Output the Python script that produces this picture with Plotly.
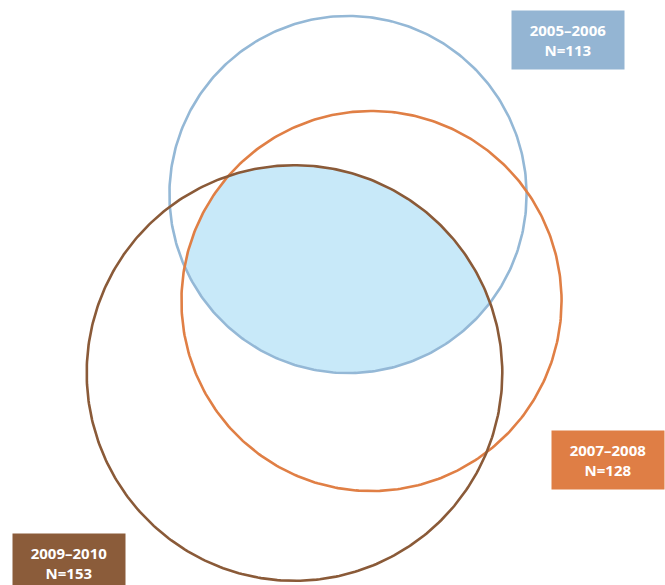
import numpy as np
import plotly.graph_objects as go

# Data
periods = ["2005–2006", "2007–2008", "2009–2010"]
counts = [113, 128, 153]

# Layout (pixel-space positions of circle centres and label boxes)
centers_x = [348, 371.5, 294.5]
centers_y = [194.5, 301, 373]
scale = 16.8  # radius = scale * sqrt(N)  -> area proportional to N
line_colors = ["#94b8d6", "#e07f45", "#8a5a38"]
box_colors = ["#94b5d3", "#df7e45", "#8b5c3a"]
box_x = [568, 608, 69]   # box centres
box_y = [10, 430, 533]   # box tops
fill_color = "#c8e9f9"

W, H = 665, 585
radii = [scale * np.sqrt(n) for n in counts]

fig = go.Figure()

# Intersection of all three circles (shaded region)
pts = []
th = np.linspace(0, 2 * np.pi, 2000)
for i in range(3):
    px = centers_x[i] + radii[i] * np.cos(th)
    py = centers_y[i] + radii[i] * np.sin(th)
    ok = np.ones_like(px, dtype=bool)
    for j in range(3):
        if j != i:
            ok &= (px - centers_x[j]) ** 2 + (py - centers_y[j]) ** 2 <= radii[j] ** 2 + 1e-6
    pts.extend(zip(px[ok], py[ok]))
pts = np.array(pts)
cx, cy = pts[:, 0].mean(), pts[:, 1].mean()
ang = np.arctan2(pts[:, 1] - cy, pts[:, 0] - cx)
order = np.argsort(ang)
pts = pts[order]
fig.add_trace(go.Scatter(
    x=np.append(pts[:, 0], pts[0, 0]), y=np.append(pts[:, 1], pts[0, 1]),
    mode="lines", fill="toself", fillcolor=fill_color,
    line=dict(width=0), hoverinfo="skip", showlegend=False))

# Circles
th2 = np.linspace(0, 2 * np.pi, 400)
for i in range(3):
    fig.add_trace(go.Scatter(
        x=centers_x[i] + radii[i] * np.cos(th2),
        y=centers_y[i] + radii[i] * np.sin(th2),
        mode="lines", line=dict(color=line_colors[i], width=2.6),
        hoverinfo="skip", showlegend=False))

# Label boxes
for i in range(3):
    fig.add_annotation(
        x=box_x[i], y=box_y[i], xref="x", yref="y",
        xanchor="center", yanchor="top",
        text=f"<b>{periods[i]}<br>N={counts[i]}</b>",
        showarrow=False, align="center",
        width=112, height=58, bgcolor=box_colors[i], borderpad=0,
        font=dict(family="Open Sans", size=15, color="white"))

fig.update_layout(
    width=W, height=H,
    margin=dict(l=0, r=0, t=0, b=0),
    paper_bgcolor="white", plot_bgcolor="white",
    xaxis=dict(range=[0, W], visible=False, fixedrange=True),
    yaxis=dict(range=[H, 0], visible=False, fixedrange=True),
    hovermode=False,
)

fig.write_html(
    "out.html",
    config={"displayModeBar": False, "staticPlot": True},
    post_script="document.body.style.margin='0';document.body.style.overflow='hidden';",
)
